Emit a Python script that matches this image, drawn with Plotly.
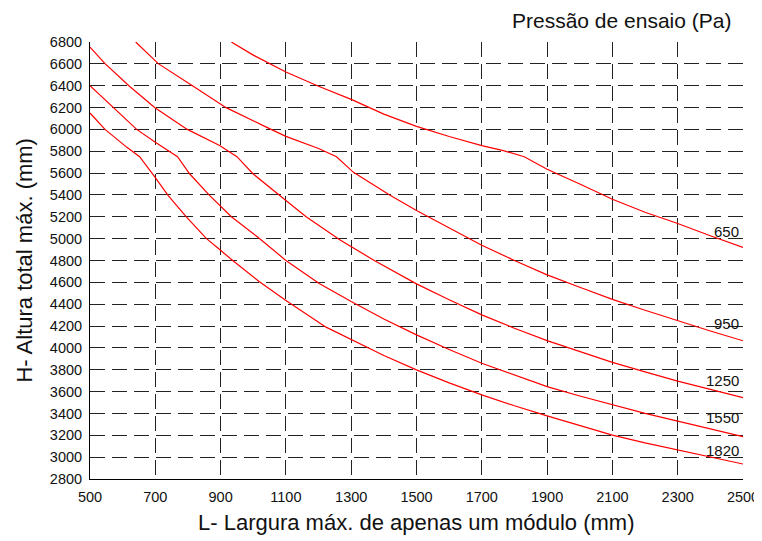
import plotly.graph_objects as go

# Pressure series (Pa): read points (L in mm, H in mm)
x_650 = [933, 1000, 1100, 1200, 1300, 1400, 1500, 1600, 1700, 1766, 1830, 1900, 2000, 2100, 2200, 2300, 2400, 2500]
y_650 = [6800, 6680, 6525, 6395, 6275, 6140, 6028, 5935, 5852, 5806, 5750, 5635, 5500, 5360, 5242, 5139, 5027, 4919]

x_950 = [640, 709, 815, 917, 1040, 1100, 1202, 1255, 1307, 1419, 1500, 1600, 1700, 1800, 1900, 2000, 2100, 2200, 2300, 2400, 2500]
y_950 = [6800, 6602, 6397, 6199, 6021, 5936, 5823, 5750, 5607, 5397, 5257, 5095, 4940, 4800, 4668, 4555, 4444, 4345, 4248, 4155, 4065]

x_1250 = [500, 546, 620, 699, 798, 897, 950, 999, 1100, 1162, 1266, 1368, 1500, 1600, 1700, 1800, 1900, 2000, 2100, 2200, 2300, 2400, 2500]
y_1250 = [6754, 6602, 6397, 6199, 6000, 5853, 5750, 5594, 5350, 5200, 4988, 4805, 4586, 4440, 4302, 4180, 4067, 3970, 3867, 3780, 3696, 3620, 3544]

x_1550 = [500, 571, 643, 699, 768, 805, 866, 933, 1019, 1099, 1202, 1300, 1400, 1500, 1600, 1700, 1800, 1900, 2000, 2100, 2200, 2300, 2400, 2500]
y_1550 = [6400, 6199, 6000, 5884, 5750, 5594, 5396, 5200, 5002, 4803, 4589, 4424, 4265, 4119, 3985, 3860, 3750, 3646, 3560, 3477, 3400, 3330, 3258, 3187]

x_1820 = [500, 546, 612, 652, 699, 739, 795, 856, 897, 938, 1019, 1099, 1223, 1300, 1400, 1500, 1600, 1700, 1800, 1900, 2000, 2100, 2200, 2300, 2400, 2500]
y_1820 = [6150, 6000, 5838, 5750, 5564, 5396, 5200, 5002, 4901, 4797, 4605, 4437, 4190, 4075, 3930, 3799, 3680, 3570, 3470, 3378, 3290, 3202, 3130, 3065, 3000, 2937]

series_names = ["650", "950", "1250", "1550", "1820"]
label_y = [5064, 4219, 3706, 3365, 3065]

x_ticks = list(range(500, 2501, 200))
y_ticks = list(range(2800, 6801, 200))

FONT = "Liberation Sans, Arial, sans-serif"

fig = go.Figure()
for name, xs, ys in zip(series_names,
                        [x_650, x_950, x_1250, x_1550, x_1820],
                        [y_650, y_950, y_1250, y_1550, y_1820]):
    fig.add_trace(go.Scatter(x=xs, y=ys, mode="lines", name=name,
                             line=dict(color="#ff0000", width=1.2),
                             showlegend=False, hoverinfo="skip"))

for name, ly in zip(series_names, label_y):
    fig.add_annotation(x=2495, y=ly, text=name, showarrow=False,
                       xanchor="right", yanchor="middle",
                       font=dict(family=FONT, size=15, color="#111"))

fig.add_annotation(xref="paper", yref="paper", x=0.985, y=1.05,
                   text="Pressão de ensaio (Pa)", showarrow=False,
                   xanchor="right", yanchor="middle",
                   font=dict(family=FONT, size=21, color="#111"))

fig.add_annotation(xref="paper", yref="paper", x=0.5, y=-0.1,
                   text="L- Largura máx. de apenas um módulo (mm)", showarrow=False,
                   xanchor="center", yanchor="middle",
                   font=dict(family=FONT, size=22, color="#111"))

fig.add_annotation(xref="paper", yref="paper", x=-0.101, y=0.5,
                   text="H- Altura total máx. (mm)", showarrow=False, textangle=-90,
                   xanchor="center", yanchor="middle",
                   font=dict(family=FONT, size=22, color="#111"))

grid = dict(showgrid=True, gridcolor="#222", gridwidth=1, griddash="15px,7px",
            showline=True, linecolor="#000", linewidth=1, mirror=False,
            zeroline=False, ticks="", automargin=False,
            tickfont=dict(family=FONT, size=14.5, color="#111"))

fig.update_xaxes(range=[500, 2500], tickvals=x_ticks, ticktext=[str(v) for v in x_ticks],
                 ticklabelstandoff=5, **grid)
fig.update_yaxes(range=[2800, 6800], tickvals=y_ticks, ticktext=[str(v) for v in y_ticks],
                 ticklabelstandoff=4, **grid)

# the page adds an 8px body margin, so the figure is sized to fit the window
fig.update_layout(width=754, height=533, margin=dict(l=82, r=19, t=34, b=62),
                  plot_bgcolor="white", paper_bgcolor="white",
                  font=dict(family=FONT, color="#111"))

fig.write_html("out.html")
